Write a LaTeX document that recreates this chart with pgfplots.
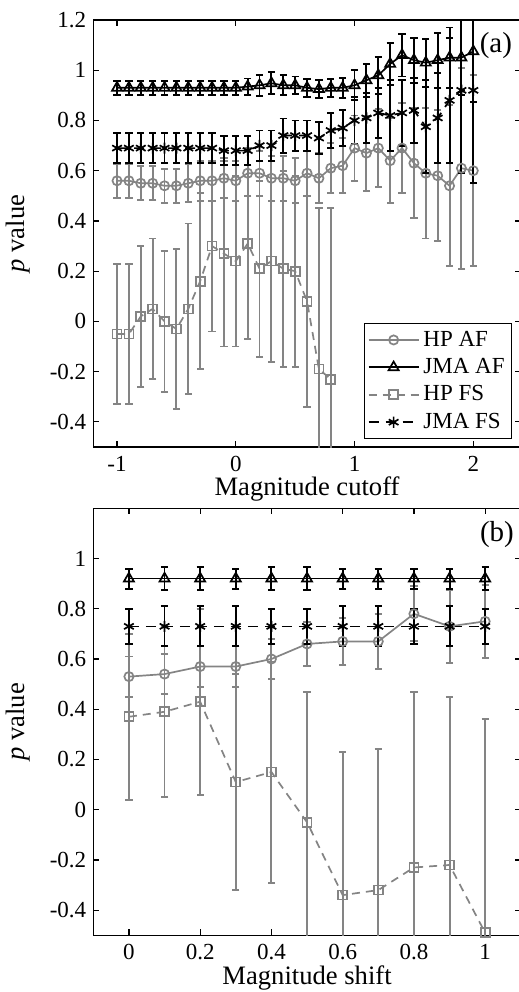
\documentclass[border=0pt]{standalone}
\usepackage{fontspec}
\setmainfont{Liberation Serif}
\usepackage{pgfplots}
\pgfplotsset{compat=1.18}
\usepackage{pgfplotstable}
\definecolor{mgray}{RGB}{132,132,132}

\pgfplotstableread{
x y e
-1.0 0.56 0.067
-0.9 0.56 0.067
-0.8 0.55 0.068
-0.7 0.55 0.068
-0.6 0.54 0.068
-0.5 0.54 0.068
-0.4 0.55 0.075
-0.3 0.56 0.08
-0.2 0.56 0.08
-0.1 0.57 0.08
0.0 0.56 0.08
0.1 0.59 0.09
0.2 0.59 0.09
0.3 0.57 0.09
0.4 0.57 0.09
0.5 0.56 0.09
0.6 0.59 0.09
0.7 0.57 0.10
0.8 0.61 0.10
0.9 0.62 0.11
1.0 0.69 0.13
1.1 0.67 0.15
1.2 0.69 0.155
1.3 0.64 0.17
1.4 0.69 0.18
1.5 0.63 0.22
1.6 0.59 0.26
1.7 0.58 0.26
1.8 0.54 0.32
1.9 0.61 0.40
2.0 0.60 0.38
}\tophpaf

\pgfplotstableread{
x y e
-1.0 0.93 0.028
-0.9 0.93 0.028
-0.8 0.93 0.028
-0.7 0.93 0.028
-0.6 0.93 0.028
-0.5 0.93 0.028
-0.4 0.93 0.028
-0.3 0.93 0.028
-0.2 0.93 0.028
-0.1 0.93 0.028
0.0 0.93 0.028
0.1 0.935 0.032
0.2 0.94 0.042
0.3 0.948 0.044
0.4 0.94 0.04
0.5 0.94 0.035
0.6 0.93 0.035
0.7 0.925 0.035
0.8 0.93 0.035
0.9 0.93 0.04
1.0 0.94 0.06
1.1 0.96 0.065
1.2 0.98 0.073
1.3 1.025 0.083
1.4 1.06 0.085
1.5 1.04 0.09
1.6 1.03 0.096
1.7 1.04 0.11
1.8 1.05 0.12
1.9 1.05 0.15
2.0 1.075 0.2
}\topjmaaf

\pgfplotstableread{
x y e
-1.0 -0.05 0.28
-0.9 -0.05 0.28
-0.8 0.02 0.28
-0.7 0.05 0.28
-0.6 0.00 0.28
-0.5 -0.03 0.32
-0.4 0.05 0.34
-0.3 0.16 0.35
-0.2 0.30 0.34
-0.1 0.27 0.37
0.0 0.24 0.34
0.1 0.31 0.38
0.2 0.21 0.35
0.3 0.24 0.40
0.4 0.21 0.39
0.5 0.20 0.38
0.6 0.08 0.42
0.7 -0.19 0.64
0.8 -0.23 0.68
}\tophpfs

\pgfplotstableread{
x y e
-1.0 0.69 0.06
-0.9 0.69 0.06
-0.8 0.69 0.06
-0.7 0.69 0.06
-0.6 0.69 0.06
-0.5 0.69 0.06
-0.4 0.69 0.06
-0.3 0.69 0.06
-0.2 0.69 0.06
-0.1 0.68 0.058
0.0 0.68 0.058
0.1 0.68 0.058
0.2 0.70 0.06
0.3 0.70 0.06
0.4 0.74 0.068
0.5 0.74 0.06
0.6 0.74 0.06
0.7 0.73 0.065
0.8 0.76 0.07
0.9 0.77 0.07
1.0 0.80 0.093
1.1 0.81 0.10
1.2 0.83 0.10
1.3 0.82 0.14
1.4 0.83 0.13
1.5 0.84 0.13
1.6 0.775 0.185
1.7 0.81 0.18
1.8 0.88 0.25
1.9 0.92 0.33
2.0 0.92 0.37
}\topjmafs

\pgfplotstableread{
x y e
0.0 0.53 0.08
0.1 0.54 0.08
0.2 0.57 0.08
0.3 0.57 0.08
0.4 0.60 0.08
0.5 0.66 0.087
0.6 0.67 0.095
0.7 0.67 0.11
0.8 0.78 0.11
0.9 0.73 0.145
1.0 0.75 0.145
}\bothpaf

\pgfplotstableread{
x y e
0.0 0.92 0.04
0.1 0.92 0.045
0.2 0.92 0.045
0.3 0.92 0.04
0.4 0.92 0.045
0.5 0.92 0.045
0.6 0.92 0.04
0.7 0.92 0.04
0.8 0.92 0.04
0.9 0.92 0.04
1.0 0.92 0.045
}\botjmaaf

\pgfplotstableread{
x y e
0.0 0.37 0.33
0.1 0.39 0.34
0.2 0.43 0.37
0.3 0.11 0.43
0.4 0.15 0.44
0.5 -0.05 0.52
0.6 -0.34 0.57
0.7 -0.32 0.56
0.8 -0.23 0.70
0.9 -0.22 0.67
1.0 -0.49 0.85
}\bothpfs

\pgfplotstableread{
x y e
0.0 0.73 0.07
0.1 0.73 0.08
0.2 0.73 0.08
0.3 0.73 0.08
0.4 0.73 0.07
0.5 0.73 0.07
0.6 0.73 0.08
0.7 0.73 0.08
0.8 0.73 0.07
0.9 0.73 0.08
1.0 0.73 0.07
}\botjmafs

\pgfplotsset{
  myaxis/.style={
    scale only axis, width=213.75pt, height=213.5pt,
    ymin=-0.5, ymax=1.2,
    tick align=inside, major tick length=3pt,
    axis line style={line width=0.7pt},
    every tick/.style={black, line width=0.6pt},
    tick label style={font=\fontsize{11.5}{13}\selectfont},
    xticklabel style={inner sep=1pt, yshift=-3.5pt},
    /pgf/number format/assume math mode=true,
    label style={font=\fontsize{13.3}{15}\selectfont, inner sep=1pt},
    ylabel={\textit{p} value},
    ylabel style={at={(axis description cs:-0.175,0.5)}, anchor=center},
    legend image code/.code={\draw[mark repeat=2,mark phase=2,##1] plot coordinates {(0pt,0pt)(12.5pt,0pt)(25pt,0pt)};},
  },
  hpaf/.style={color=mgray, line width=0.85pt, mark=o, mark size=2.3pt, mark options={solid},
    error bars/.cd, y dir=both, y explicit, error bar style={line width=0.95pt, mgray, solid},
    error mark options={rotate=90, mark size=1.8pt, line width=0.95pt, mgray, solid}},
  jmaaf/.style={color=black, line width=0.85pt, mark=triangle, mark size=2.9pt, mark options={solid},
    error bars/.cd, y dir=both, y explicit, error bar style={line width=0.95pt, black, solid},
    error mark options={rotate=90, mark size=1.8pt, line width=0.95pt, black, solid}},
  hpfs/.style={color=mgray, line width=0.85pt, dash pattern=on 4pt off 3pt, mark=square, mark size=2.25pt, mark options={solid},
    error bars/.cd, y dir=both, y explicit, error bar style={line width=0.95pt, mgray, solid},
    error mark options={rotate=90, mark size=1.8pt, line width=0.95pt, mgray, solid}},
  jmafs/.style={color=black, line width=0.85pt, dash pattern=on 5pt off 3.5pt, mark=asterisk, mark size=2.8pt, mark options={solid},
    error bars/.cd, y dir=both, y explicit, error bar style={line width=0.95pt, black, solid},
    error mark options={rotate=90, mark size=1.8pt, line width=0.95pt, black, solid}},
}

\begin{document}
\begin{tikzpicture}
\begin{axis}[myaxis,
  xmin=-1.2, xmax=2.4,
  xtick={-1,0,1,2},
  ytick={-0.4,-0.2,0,0.2,0.4,0.6,0.8,1,1.2},
  xlabel={Magnitude cutoff},
  xlabel style={at={(axis description cs:0.5,0)}, anchor=center, yshift=-21pt},
  legend cell align=left,
  legend style={at={(0.98,0.019)}, anchor=south east, font=\fontsize{11.5}{12.5}\selectfont,
    draw=black, line width=0.6pt, inner sep=1.5pt, row sep=0.6pt},
]
\addplot[hpaf] table[x=x, y=y, y error=e] {\tophpaf};
\addlegendentry{HP AF}
\addplot[jmaaf] table[x=x, y=y, y error=e] {\topjmaaf};
\addlegendentry{JMA AF}
\addplot[hpfs] table[x=x, y=y, y error=e] {\tophpfs};
\addlegendentry{HP FS}
\addplot[jmafs] table[x=x, y=y, y error=e] {\topjmafs};
\addlegendentry{JMA FS}
\node[font=\fontsize{14.5}{16}\selectfont] at (axis cs:2.19,1.097) {(a)};
\end{axis}

\begin{axis}[myaxis, at={(0pt,-30.65pt)}, anchor=north west,
  xmin=-0.1, xmax=1.1,
  xtick={0,0.2,0.4,0.6,0.8,1},
  ytick={-0.4,-0.2,0,0.2,0.4,0.6,0.8,1},
  xlabel={Magnitude shift},
  xlabel style={at={(axis description cs:0.5,0)}, anchor=center, yshift=-21.5pt},
]
\addplot[hpaf] table[x=x, y=y, y error=e] {\bothpaf};
\addplot[jmaaf] table[x=x, y=y, y error=e] {\botjmaaf};
\addplot[hpfs] table[x=x, y=y, y error=e] {\bothpfs};
\addplot[jmafs] table[x=x, y=y, y error=e] {\botjmafs};
\node[font=\fontsize{14.5}{16}\selectfont] at (axis cs:1.033,1.097) {(b)};
\end{axis}
\pgfresetboundingbox
\path[use as bounding box] (-46.65pt,-272.5pt) rectangle (212.85pt,223.5pt);
\end{tikzpicture}
\end{document}
